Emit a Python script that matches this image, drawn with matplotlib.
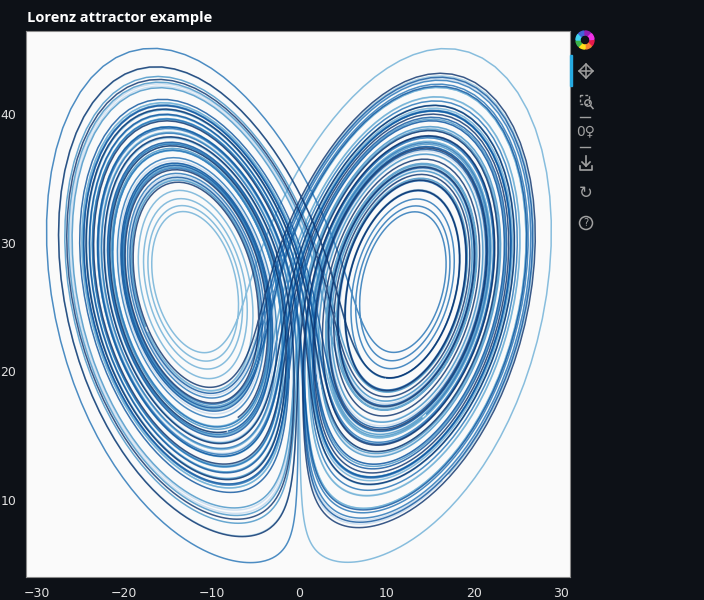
import numpy as np
import matplotlib.pyplot as plt
from matplotlib.patches import Wedge, Rectangle, Circle

# Lorenz system parameters and starting point
sigma = 10.0
rho = 28.0
beta = 8.0 / 3
theta = 3 * np.pi / 4
initial = [-10.0, -7.0, 35.0]
t_end = 100.0
dt = 0.006
n_segments = 7

colors = ["#C6DBEF", "#9ECAE1", "#6BAED6", "#4292C6", "#2171B5", "#08519C", "#08306B"]

x_ticks = [-30, -20, -10, 0, 10, 20, 30]
y_ticks = [10, 20, 30, 40]


def lorenz(s):
    x, y, z = s
    return np.array([sigma * (y - x), x * (rho - z) - y, x * y - beta * z])


def integrate(start, step, n, sub=4):
    out = np.empty((n, 3))
    s = np.array(start, dtype=float)
    h = step / sub
    for i in range(n):
        out[i] = s
        for _ in range(sub):
            k1 = lorenz(s)
            k2 = lorenz(s + h / 2 * k1)
            k3 = lorenz(s + h / 2 * k2)
            k4 = lorenz(s + h * k3)
            s = s + h / 6 * (k1 + 2 * k2 + 2 * k3 + k4)
    return out


n_steps = len(np.arange(0, t_end, dt))
sol = integrate(initial, dt, n_steps)
xs, ys, zs = sol[:, 0], sol[:, 1], sol[:, 2]
xprime = np.cos(theta) * xs - np.sin(theta) * ys

bg = "#0d1117"
fig = plt.figure(figsize=(7.04, 6.0), dpi=100, facecolor=bg)
W, H = 704, 600
ax = fig.add_axes([26 / W, 1 - 577 / H, (570 - 26) / W, (577 - 31) / H])
ax.set_facecolor("#fafafa")

for xp, zp, c in zip(np.array_split(xprime, n_segments), np.array_split(zs, n_segments), colors):
    ax.plot(xp, zp, color=c, alpha=0.8, lw=1.1, solid_joinstyle="round")

ax.set_xlim(-31.26, 31.03)
ax.set_ylim(4.02, 46.45)
ax.set_xticks(x_ticks)
ax.set_yticks(y_ticks)
ax.set_xticklabels([str(v).replace("-", "\u2212") for v in x_ticks])
ax.tick_params(colors="#e0e0e0", labelsize=9, length=0, pad=7)
for sp in ax.spines.values():
    sp.set_color("#8a8a8a")
    sp.set_linewidth(0.8)

fig.text(27 / W, 1 - 18 / H, "Lorenz attractor example", color="white",
         fontsize=10.5, fontweight="bold", family="Open Sans", va="center", ha="left")

# toolbar
tb = fig.add_axes([0, 0, 1, 1], facecolor="none")
tb.set_xlim(0, W)
tb.set_ylim(H, 0)
tb.axis("off")
gray = "#a0a0a0"
logo_cols = ["#e6194b", "#f58231", "#ffe119", "#3cb44b", "#42d4f4", "#4363d8", "#911eb4", "#f032e6"]
for i, c in enumerate(logo_cols):
    tb.add_patch(Wedge((585, 40), 9, i * 45, i * 45 + 40, width=4, color=c))
tb.add_patch(Rectangle((570, 55), 2, 31, color="#26aae1"))

# pan
cx, cy = 586, 71
tb.plot([cx - 7, cx + 7], [cy, cy], color=gray, lw=1.1)
tb.plot([cx, cx], [cy - 7, cy + 7], color=gray, lw=1.1)
for ux, uy in [(-1, 0), (1, 0), (0, -1), (0, 1)]:
    tipx, tipy = cx + 7 * ux, cy + 7 * uy
    px, py = -uy, ux
    tb.plot([tipx - 3 * ux + 3 * px, tipx, tipx - 3 * ux - 3 * px],
            [tipy - 3 * uy + 3 * py, tipy, tipy - 3 * uy - 3 * py], color=gray, lw=1.1)

# box zoom
tb.add_patch(Rectangle((580, 95), 9, 9, fill=False, ec=gray, lw=1, ls=(0, (2, 1.5))))
tb.add_patch(Circle((588, 103), 3.2, fill=False, ec=gray, lw=1))
tb.plot([590.5, 593], [105.5, 108.5], color=gray, lw=1.1)
tb.plot([580, 590], [117, 117], color=gray, lw=1)

# wheel zoom
tb.text(586, 131, "0\u2640", color=gray, fontsize=10, ha="center", va="center", family="DejaVu Sans")
tb.plot([580, 590], [147, 147], color=gray, lw=1)

# save
tb.plot([586, 586], [156, 166], color=gray, lw=1.2)
tb.plot([582, 586, 590], [162, 166, 162], color=gray, lw=1.2)
tb.plot([580, 580, 592, 592], [166, 170, 170, 166], color=gray, lw=1.2)

# reset
tb.text(586, 193, "\u21bb", color=gray, fontsize=12, ha="center", va="center", family="DejaVu Sans")

# help
tb.add_patch(Circle((586, 223), 6.5, fill=False, ec=gray, lw=1.1))
tb.text(586, 223.5, "?", color=gray, fontsize=7, ha="center", va="center")

fig.savefig("out.png", dpi=100, facecolor=bg)
